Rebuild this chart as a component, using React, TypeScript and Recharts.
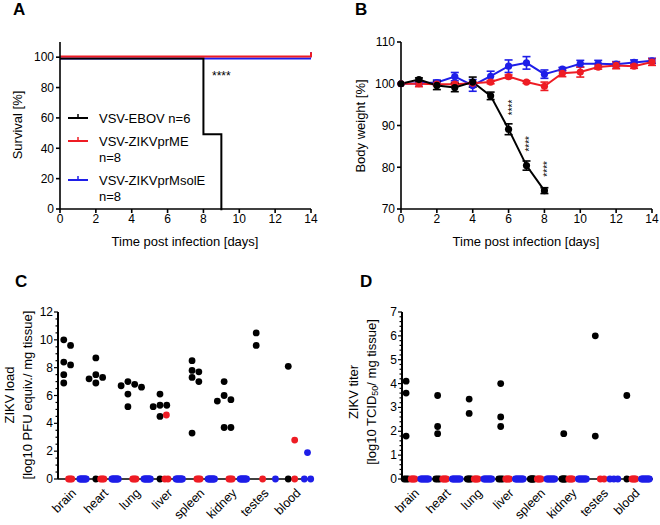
import {
  ErrorBar,
  LabelList,
  Line,
  LineChart,
  ReferenceDot,
  Scatter,
  ScatterChart,
  XAxis,
  YAxis,
} from "recharts";

const FONT = "'Liberation Sans', Arial, Helvetica, sans-serif";
const BLACK = "#000000";
const RED = "#ee1c24";
const BLUE = "#1e1ee8";

// ---- A: survival ----
const survivalDaysEbov = [0, 8, 9];
const survivalEbov = [100, 50, 0];
const survivalDaysZikv = [0, 14];
const survivalPrME = [100, 100];
const survivalPrMsolE = [100, 100];
const dayTicks = [0, 2, 4, 6, 8, 10, 12, 14];
const survivalTicks = [0, 20, 40, 60, 80, 100];
const legendA = [
  { lines: ["VSV-EBOV n=6"], color: BLACK },
  { lines: ["VSV-ZIKVprME", "n=8"], color: RED },
  { lines: ["VSV-ZIKVprMsolE", "n=8"], color: BLUE },
];

// ---- B: body weight ----
const days = [0, 1, 2, 3, 4, 5, 6, 7, 8, 9, 10, 11, 12, 13, 14];
const weightEbov = [100, 101.0, 99.6, 99.1, 100.4, 97.1, 89.1, 80.4, 74.4];
const errEbov = [0, 0.4, 1.0, 1.0, 1.2, 0.9, 1.3, 1.1, 0.7];
const sigEbov = ["", "", "", "", "", "", "****", "****", "****"];
const weightPrME = [100, 100.0, 99.9, 99.9, 100.1, 100.4, 101.7, 100.4, 99.4, 102.5, 102.8, 104.0, 104.4, 104.2, 105.2];
const errPrME = [0, 0.7, 0.4, 0.4, 0.3, 0.4, 0.4, 0.3, 1.0, 0.8, 1.2, 0.5, 0.8, 0.5, 0.8];
const weightPrMsolE = [100, 100.1, 100.3, 101.7, 99.6, 101.8, 104.2, 105.0, 102.3, 103.5, 104.8, 104.8, 104.7, 105.1, 105.5];
const errPrMsolE = [0, 0.3, 0.6, 1.0, 1.4, 1.2, 1.5, 1.5, 1.0, 0.4, 0.8, 0.8, 0.6, 0.6, 0.6];
const weightTicks = [70, 80, 90, 100, 110];

// ---- C / D: organ loads ----
const tissues = ["brain", "heart", "lung", "liver", "spleen", "kidney", "testes", "blood"];
const loadEbov = [
  [10.0, 9.6, 8.4, 8.2, 7.5, 6.9],
  [8.7, 7.5, 7.3, 7.2, 6.9, 0],
  [7.0, 6.8, 6.7, 6.6, 6.1, 5.2],
  [6.1, 5.3, 5.3, 5.2, 4.5, 0],
  [8.5, 7.8, 7.7, 7.3, 7.0, 3.3],
  [7.0, 6.0, 5.7, 5.6, 3.7, 3.7],
  [10.5, 9.6],
  [8.1, 0],
];
const loadPrME = [[0, 0, 0], [0, 0, 0], [0, 0, 0], [4.6, 0, 0], [0, 0, 0], [0, 0, 0], [0], [2.8, 0]];
const loadPrMsolE = [
  [0, 0, 0, 0, 0, 0, 0, 0],
  [0, 0, 0, 0, 0, 0, 0, 0],
  [0, 0, 0, 0, 0, 0, 0, 0],
  [0, 0, 0, 0, 0, 0, 0, 0],
  [0, 0, 0, 0, 0, 0, 0, 0],
  [0, 0, 0, 0, 0, 0, 0, 0],
  [0],
  [1.9, 0, 0],
];
const titerEbov = [
  [4.1, 3.6, 1.8, 0, 0, 0],
  [3.5, 2.2, 1.9, 0, 0, 0],
  [3.35, 2.75, 0, 0, 0, 0],
  [4.0, 2.6, 2.2, 0, 0, 0],
  [0, 0, 0, 0, 0, 0],
  [1.9, 0, 0, 0, 0, 0],
  [6.0, 1.8],
  [3.5, 0],
];
const titerPrME = [
  [0, 0, 0, 0], [0, 0, 0, 0], [0, 0, 0, 0], [0, 0, 0, 0],
  [0, 0, 0, 0], [0, 0, 0, 0], [0, 0], [0, 0, 0, 0],
];
const titerPrMsolE = [
  [0, 0, 0, 0, 0, 0, 0, 0], [0, 0, 0, 0, 0, 0, 0, 0], [0, 0, 0, 0, 0, 0, 0, 0],
  [0, 0, 0, 0, 0, 0, 0, 0], [0, 0, 0, 0, 0, 0, 0, 0], [0, 0, 0, 0, 0, 0, 0, 0],
  [0, 0, 0], [0, 0, 0, 0, 0, 0, 0, 0],
];
const loadTicks = [0, 2, 4, 6, 8, 10, 12];
const titerTicks = [0, 1, 2, 3, 4, 5, 6, 7];

const DOT_D = 6.8;

type Pt = { x: number; y: number };

// spread dots of one group so they don't sit on top of each other
const layoutDots = (
  values: number[][],
  offset: number,
  zeroSpan: number,
  pxPerX: number,
  pxPerY: number
): Pt[] => {
  const out: Pt[] = [];
  values.forEach((vals, i) => {
    const zeros = vals.filter((v) => v === 0);
    zeros.forEach((_, k) => {
      const t = zeros.length > 1 ? k / (zeros.length - 1) - 0.5 : 0;
      out.push({ x: i + offset + t * zeroSpan, y: 0 });
    });
    const placed: { dx: number; v: number }[] = [];
    vals
      .filter((v) => v > 0)
      .forEach((v) => {
        let dx = 0;
        for (let k = 0; k < 30; k++) {
          const cand = (k % 2 ? 1 : -1) * Math.ceil(k / 2) * (DOT_D / 2);
          if (placed.every((p) => Math.hypot(cand - p.dx, (v - p.v) * pxPerY) >= DOT_D)) {
            dx = cand;
            break;
          }
        }
        placed.push({ dx, v });
        out.push({ x: i + offset + dx / pxPerX, y: v });
      });
  });
  return out;
};

const axisStyle = { stroke: "#000", strokeWidth: 1.6 };
const tickStyle = { fill: "#000", fontSize: 12, fontFamily: FONT };
const tissueTickStyle = {
  fill: "#000",
  fontSize: 12.5,
  fontFamily: FONT,
  angle: -45,
  textAnchor: "end",
  dx: 0.5,
  dy: 3.5,
};

const dotShape = (color: string) => (p: any) => (
  <circle cx={p.cx} cy={p.cy} r={DOT_D / 2} fill={color} />
);

const minorYTick = (majors: number[]) => (p: any) => {
  const major = majors.includes(p.payload.value);
  return (
    <g>
      <line x1={p.x - (major ? 4 : 2.5)} x2={p.x} y1={p.y} y2={p.y} stroke="#000" strokeWidth={1.2} />
      {major && (
        <text x={p.x - 5} y={p.y} dy={4} textAnchor="end" fontSize={12} fontFamily={FONT} fill="#000">
          {p.payload.value}
        </text>
      )}
    </g>
  );
};

const PanelLetter = ({ x, y, children }: { x: number; y: number; children: string }) => (
  <text x={x} y={y} fontSize={17} fontWeight="bold" fontFamily={FONT} fill="#000">
    {children}
  </text>
);

const PanelA = () => {
  const ebov = survivalDaysEbov.map((d, i) => ({ day: d, value: survivalEbov[i] }));
  const prME = survivalDaysZikv.map((d, i) => ({ day: d, value: survivalPrME[i] }));
  const prMsolE = survivalDaysZikv.map((d, i) => ({ day: d, value: survivalPrMsolE[i] }));
  const censor = (color: string, last: number) => (p: any) =>
    p.index === last ? (
      <line key={p.index} x1={p.cx} x2={p.cx} y1={p.cy} y2={p.cy - 5} stroke={color} strokeWidth={2} />
    ) : (
      <g key={p.index} />
    );
  let row = 118;
  return (
    <LineChart width={330} height={260} margin={{ top: 42, right: 19, bottom: 0, left: 0 }}>
      <XAxis type="number" dataKey="day" domain={[0, 14]} ticks={dayTicks} height={51}
        axisLine={axisStyle} tickLine={axisStyle} tick={tickStyle} tickSize={4} tickMargin={1} interval={0} />
      <YAxis type="number" domain={[0, 110]} ticks={survivalTicks} width={60}
        axisLine={axisStyle} tickLine={axisStyle} tick={tickStyle} tickSize={4} tickMargin={2} interval={0} />
      <Line className="under" data={prMsolE} dataKey="value" type="stepAfter" stroke={BLUE} strokeWidth={2} dot={censor(BLUE, 1)} isAnimationActive={false} />
      <Line className="under" data={ebov} dataKey="value" type="stepAfter" stroke={BLACK} strokeWidth={2} dot={false} isAnimationActive={false} />
      <Line className="over" data={prME} dataKey="value" type="stepAfter" stroke={RED} strokeWidth={2} dot={censor(RED, 1)} isAnimationActive={false} />
      <ReferenceDot x={9} y={88} r={0} shape={(p: any) => (
        <text x={p.cx} y={p.cy} dy={5} textAnchor="middle" fontSize={12} fontFamily={FONT} fill="#000">****</text>
      )} />
      {legendA.map((e) => {
        const y = row;
        row += 23 + 16 * (e.lines.length - 1);
        return (
          <g key={e.lines[0]}>
            <line x1={68} x2={88} y1={y} y2={y} stroke={e.color} strokeWidth={2} />
            <line x1={78} x2={78} y1={y} y2={y - 4} stroke={e.color} strokeWidth={1.5} />
            {e.lines.map((t, k) => (
              <text key={t} x={99} y={y + 5 + 16 * k} fontSize={13} fontFamily={FONT} fill="#000">{t}</text>
            ))}
          </g>
        );
      })}
      <text x={185} y={246} textAnchor="middle" fontSize={13} fontFamily={FONT} fill="#000">Time post infection [days]</text>
      <text x={19} y={125} textAnchor="middle" dominantBaseline="middle" transform="rotate(-90 19 125)"
        fontSize={13} fontFamily={FONT} fill="#000">Survival [%]</text>
      <PanelLetter x={13} y={15}>A</PanelLetter>
    </LineChart>
  );
};

const PanelB = () => {
  const rows = days.map((d, i) => ({
    day: d,
    ebov: i < weightEbov.length ? weightEbov[i] : null,
    ebovErr: i < errEbov.length ? errEbov[i] : null,
    ebovSig: i < sigEbov.length ? sigEbov[i] : "",
    prME: weightPrME[i],
    prMEErr: errPrME[i],
    prMsolE: weightPrMsolE[i],
    prMsolEErr: errPrMsolE[i],
  }));
  const stars = (p: any) =>
    p.value ? (
      <text x={p.x + 7} y={p.y - 14} transform={`rotate(-90 ${p.x + 7} ${p.y - 14})`}
        fontSize={10} fontFamily={FONT} fill="#000">{p.value}</text>
    ) : null;
  return (
    <LineChart width={330} height={260} data={rows} margin={{ top: 42, right: 8, bottom: 0, left: 0 }}>
      <XAxis type="number" dataKey="day" domain={[0, 14]} ticks={dayTicks} height={51}
        axisLine={axisStyle} tickLine={axisStyle} tick={tickStyle} tickSize={4} tickMargin={1} interval={0} />
      <YAxis type="number" domain={[70, 110]} ticks={weightTicks} width={71}
        axisLine={axisStyle} tickLine={axisStyle} tick={tickStyle} tickSize={4} tickMargin={2} interval={0} />
      <Line dataKey="prMsolE" stroke={BLUE} strokeWidth={2} dot={{ r: 3.6, fill: BLUE, strokeWidth: 0 }} isAnimationActive={false}>
        <ErrorBar dataKey="prMsolEErr" direction="y" width={4} stroke={BLUE} strokeWidth={1.6} />
      </Line>
      <Line dataKey="prME" stroke={RED} strokeWidth={2} dot={{ r: 3.6, fill: RED, strokeWidth: 0 }} isAnimationActive={false}>
        <ErrorBar dataKey="prMEErr" direction="y" width={4} stroke={RED} strokeWidth={1.6} />
      </Line>
      <Line dataKey="ebov" stroke={BLACK} strokeWidth={2} dot={{ r: 3.6, fill: BLACK, strokeWidth: 0 }} isAnimationActive={false}>
        <ErrorBar dataKey="ebovErr" direction="y" width={4} stroke={BLACK} strokeWidth={1.6} />
        <LabelList dataKey="ebovSig" content={stars} />
      </Line>
      <text x={196} y={246} textAnchor="middle" fontSize={13} fontFamily={FONT} fill="#000">Time post infection [days]</text>
      <text x={32} y={126} textAnchor="middle" dominantBaseline="middle" transform="rotate(-90 32 126)"
        fontSize={13} fontFamily={FONT} fill="#000">Body weight [%]</text>
      <PanelLetter x={25} y={15}>B</PanelLetter>
    </LineChart>
  );
};

const tissueIdx = tissues.map((_, i) => i);
const tissueName = (v: number) => tissues[v] ?? "";

const PanelC = () => {
  const pxX = 32.1;
  const pxY = 13.94;
  const minor = Array.from({ length: 25 }, (_, k) => k * 0.5);
  return (
    <ScatterChart width={330} height={265} margin={{ top: 52, right: 18, bottom: 0, left: 0 }}>
      <XAxis type="number" dataKey="x" domain={[-0.38, 7.54]} ticks={tissueIdx} height={46} tickFormatter={tissueName}
        axisLine={axisStyle} tickLine={axisStyle} tick={tissueTickStyle} tickSize={3} tickMargin={2} interval={0} />
      <YAxis type="number" dataKey="y" domain={[0, 12]} ticks={minor} width={58}
        axisLine={{ stroke: "#000", strokeWidth: 2 }} tickLine={false} tick={minorYTick(loadTicks)} tickSize={0} tickMargin={0} interval={0} />
      <Scatter data={layoutDots(loadEbov, -0.2, 0.1, pxX, pxY)} shape={dotShape(BLACK)} isAnimationActive={false} />
      <Scatter data={layoutDots(loadPrME, 0.0, 0.1, pxX, pxY)} shape={dotShape(RED)} isAnimationActive={false} />
      <Scatter data={layoutDots(loadPrMsolE, 0.4, 0.2, pxX, pxY)} shape={dotShape(BLUE)} isAnimationActive={false} />
      <text x={11} y={135} textAnchor="middle" dominantBaseline="middle" transform="rotate(-90 11 135)"
        fontSize={13} fontFamily={FONT} fill="#000">ZIKV load</text>
      <text x={29} y={135} textAnchor="middle" dominantBaseline="middle" transform="rotate(-90 29 135)"
        fontSize={13} fontFamily={FONT} fill="#000">[log10 PFU equiv./ mg tissue]</text>
      <PanelLetter x={15} y={27}>C</PanelLetter>
    </ScatterChart>
  );
};

const PanelD = () => {
  const pxX = 31.6;
  const pxY = 23.9;
  const minor = Array.from({ length: 36 }, (_, k) => Math.round(k * 2) / 10);
  return (
    <ScatterChart width={330} height={265} margin={{ top: 52, right: 7, bottom: 0, left: 0 }}>
      <XAxis type="number" dataKey="x" domain={[-0.35, 7.61]} ticks={tissueIdx} height={46} tickFormatter={tissueName}
        axisLine={axisStyle} tickLine={axisStyle} tick={tissueTickStyle} tickSize={3} tickMargin={2} interval={0} />
      <YAxis type="number" dataKey="y" domain={[0, 7]} ticks={minor} width={72}
        axisLine={{ stroke: "#000", strokeWidth: 2 }} tickLine={false} tick={minorYTick(titerTicks)} tickSize={0} tickMargin={0} interval={0} />
      <Scatter data={layoutDots(titerEbov, -0.22, 0.12, pxX, pxY)} shape={dotShape(BLACK)} isAnimationActive={false} />
      <Scatter data={layoutDots(titerPrME, 0.0, 0.12, pxX, pxY)} shape={dotShape(RED)} isAnimationActive={false} />
      <Scatter data={layoutDots(titerPrMsolE, 0.37, 0.25, pxX, pxY)} shape={dotShape(BLUE)} isAnimationActive={false} />
      <text x={25} y={132} textAnchor="middle" dominantBaseline="middle" transform="rotate(-90 25 132)"
        fontSize={13} fontFamily={FONT} fill="#000">ZIKV titer</text>
      <text x={43} y={132} textAnchor="middle" dominantBaseline="middle" transform="rotate(-90 43 132)"
        fontSize={13} fontFamily={FONT} fill="#000">
        <tspan>[log10 TCID</tspan>
        <tspan fontSize={9} dy={3}>50</tspan>
        <tspan dy={-3}>/ mg tissue]</tspan>
      </text>
      <PanelLetter x={30} y={27}>D</PanelLetter>
    </ScatterChart>
  );
};

const App = () => (
  <div style={{ position: "absolute", left: 0, top: 0, width: 660, height: 525, background: "#fff" }}>
    <style>{".under { transform: translateY(1.2px); } .over { transform: translateY(-0.6px); }"}</style>
    <div style={{ position: "absolute", left: 0, top: 0 }}>
      <PanelA />
    </div>
    <div style={{ position: "absolute", left: 330, top: 0 }}>
      <PanelB />
    </div>
    <div style={{ position: "absolute", left: 0, top: 260 }}>
      <PanelC />
    </div>
    <div style={{ position: "absolute", left: 330, top: 260 }}>
      <PanelD />
    </div>
  </div>
);

export default App;
